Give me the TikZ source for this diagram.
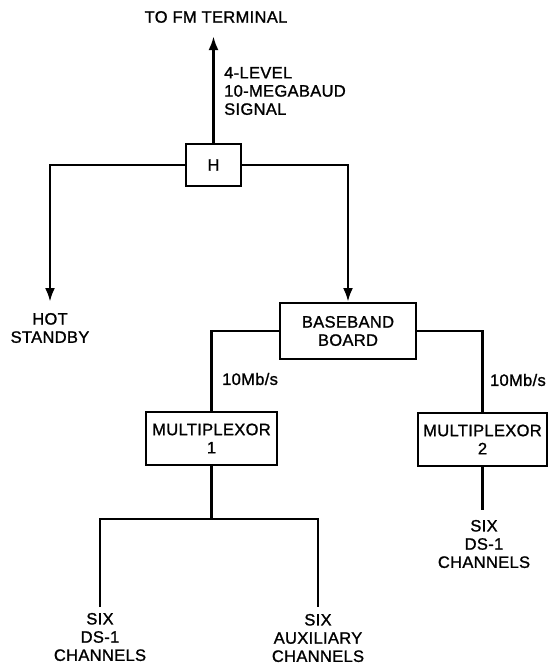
\documentclass[tikz,border=0pt]{standalone}
\usepackage{fontspec}
\setmainfont{Liberation Sans}[FakeBold=1.2, LetterSpace=2]
\usetikzlibrary{arrows.meta}
\begin{document}
\begin{tikzpicture}[x=1pt,y=-1pt,
  txt/.style={font=\fontsize{16.5}{18.2}\selectfont, inner sep=0pt, align=center},
  box/.style={draw, line width=2pt, inner sep=0pt, txt},
  wire/.style={line width=2.8pt},
  arr/.style={wire, -{Latex[length=14pt,width=10pt]}}]
\useasboundingbox (0,0) rectangle (548,665);
\fill[white] (0,0) rectangle (548,665);
% text nodes
\node[txt] (fm) at (216,17) {TO FM TERMINAL};
\node[txt, align=left, anchor=west] (sig) at (224,91) {4-LEVEL\\10-MEGABAUD\\SIGNAL};
\node[txt] (hot) at (50,328) {HOT\\STANDBY};
% boxes
\node[box, minimum width=55pt, minimum height=42pt] (H) at (213.5,165) {H};
\node[box, minimum width=136pt, minimum height=56pt] (bb) at (348,331) {BASEBAND\\BOARD};
\node[box, minimum width=131pt, minimum height=53pt] (m1) at (211.5,438.5) {MULTIPLEXOR\\1};
\node[box, minimum width=129pt, minimum height=53pt] (m2) at (482.5,439.5) {MULTIPLEXOR\\2};
% labels
\node[txt, anchor=west] (r1) at (222,379) {10Mb/s};
\node[txt, anchor=east] (r2) at (546,380) {10Mb/s};
\node[txt] (c1) at (100,637) {SIX\\DS-1\\CHANNELS};
\node[txt] (c2) at (318,638) {SIX\\AUXILIARY\\CHANNELS};
\node[txt] (c3) at (484,544) {SIX\\DS-1\\CHANNELS};
% coordinates
\coordinate (toptip) at (213.5,36);
\coordinate (hottip) at (50,302);
\coordinate (j1) at (211.5,519);
\coordinate (e1) at (100,607);
\coordinate (e2) at (318,607);
\coordinate (e3) at (482.5,510);
% connectors
\draw[arr] (H.north) -- (toptip);
\draw[arr] (H.west) -| (hottip);
\draw[arr] (H.east) -| (bb.north);
\draw[wire] (bb.west) -| (m1.north);
\draw[wire] (bb.east) -| (m2.north);
\draw[wire] (m1.south) -- (j1);
\draw[wire] (e1) |- (j1) -| (e2);
\draw[wire] (m2.south) -- (e3);
\end{tikzpicture}
\end{document}
